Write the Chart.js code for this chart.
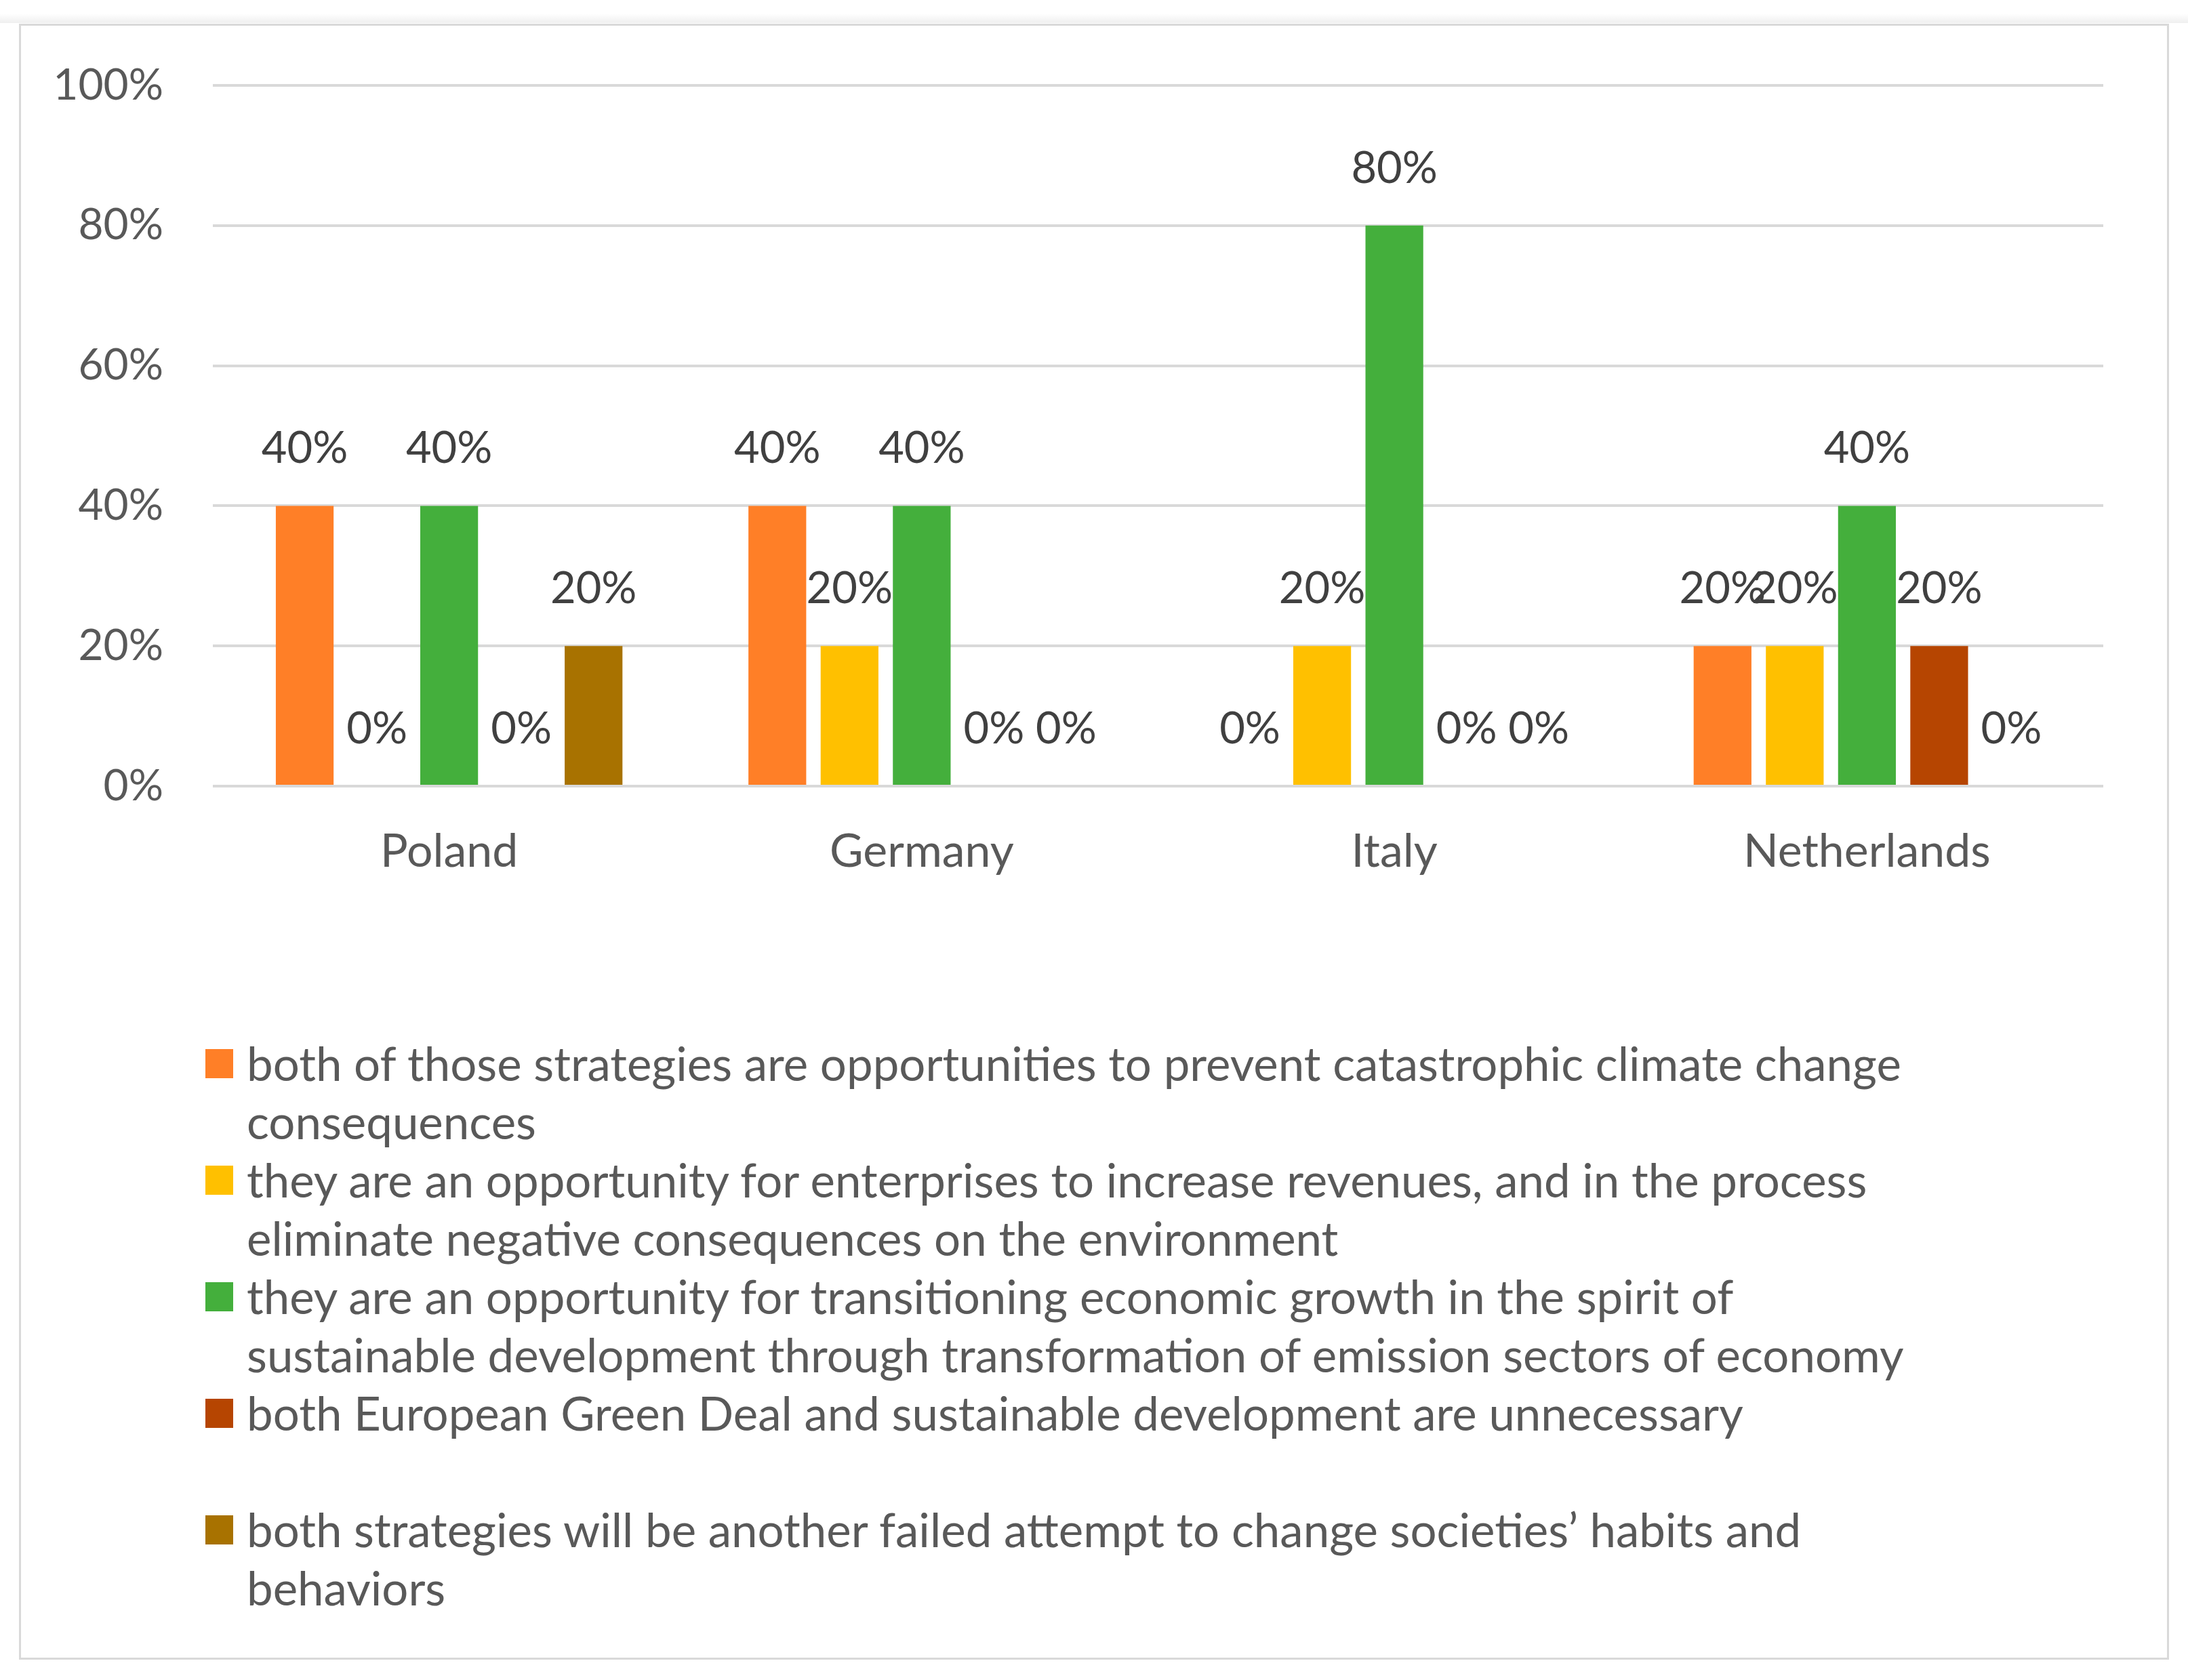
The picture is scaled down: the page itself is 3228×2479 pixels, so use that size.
<!DOCTYPE html>
<html>
<head>
<meta charset="utf-8">
<script src="https://cdn.jsdelivr.net/npm/chart.js@4"></script>
<style>
  html, body { margin: 0; padding: 0; background: #fff; }
  body { width: 3228px; height: 2479px; position: relative; overflow: hidden; font-family: Lato, 'Open Sans', sans-serif; }
  .topstrip { position: absolute; left: 0; top: 20px; width: 3228px; height: 14px; background: linear-gradient(#fff, #efefef); }
  .frame { position: absolute; left: 28px; top: 35px; width: 3166px; height: 2408px; border: 3px solid #d9d9d9; }
  #wrap { position: absolute; left: 0; top: 0; width: 3228px; height: 1350px; }
  #legend { position: absolute; left: 303px; top: 1526px; width: 2880px; }
  .item { display: flex; align-items: flex-start; height: 172px; }
  .box { width: 41px; height: 43px; margin-top: 22px; margin-right: 20px; flex: none; }
  .txt { font-size: 69px; line-height: 86px; color: #595959; white-space: nowrap; }
</style>
</head>
<body>
<div class="topstrip"></div>
<div class="frame"></div>
<div id="wrap"><canvas id="chart"></canvas></div>
<div id="legend"></div>
<script>
const countries = ['Poland', 'Germany', 'Italy', 'Netherlands'];
const yTicks = [0, 20, 40, 60, 80, 100];

const seriesLabels = [
  ['both of those strategies are opportunities to prevent catastrophic climate change', 'consequences'],
  ['they are an opportunity for enterprises to increase revenues, and in the process', 'eliminate negative consequences on the environment'],
  ['they are an opportunity for transitioning economic growth in the spirit of', 'sustainable development through transformation of  emission sectors of economy'],
  ['both European Green Deal and sustainable development are unnecessary'],
  ['both strategies will be another failed attempt to change societies’ habits and', 'behaviors']
];
const seriesColors = ['#ff7f27', '#ffc000', '#44af3c', '#b64501', '#a87200'];

const opportunitiesClimate = [40, 40, 0, 20];
const opportunityRevenues  = [0, 20, 20, 20];
const opportunityGrowth    = [40, 40, 80, 40];
const unnecessary          = [0, 0, 0, 20];
const failedAttempt        = [20, 0, 0, 0];
const seriesValues = [opportunitiesClimate, opportunityRevenues, opportunityGrowth, unnecessary, failedAttempt];

const FONT = 'Lato';
const tickC = '#595959', labelC = '#404040', gridC = '#d9d9d9';

const valueLabels = {
  id: 'valueLabels',
  afterDatasetsDraw(chart) {
    const ctx = chart.ctx;
    ctx.save();
    ctx.font = `65px ${FONT}`;
    ctx.fillStyle = labelC;
    ctx.textAlign = 'center';
    ctx.textBaseline = 'middle';
    chart.data.datasets.forEach((ds, i) => {
      chart.getDatasetMeta(i).data.forEach((bar, j) => {
        ctx.fillText(ds.data[j] + '%', bar.x, bar.y - 84);
      });
    });
    ctx.restore();
  }
};

Chart.defaults.font.family = FONT;
const canvas = document.getElementById('chart');
new Chart(canvas, {
  type: 'bar',
  data: {
    labels: countries,
    datasets: seriesValues.map((vals, i) => ({
      label: seriesLabels[i].join(' '),
      data: vals,
      backgroundColor: seriesColors[i],
      borderWidth: 0,
      barPercentage: 0.8,
      categoryPercentage: 0.764
    }))
  },
  options: {
    responsive: true,
    maintainAspectRatio: false,
    devicePixelRatio: 1,
    animation: false,
    events: [],
    layout: { padding: { left: 0, top: 126, right: 125, bottom: 0 } },
    plugins: { legend: { display: false }, tooltip: { enabled: false } },
    scales: {
      x: {
        grid: { display: false },
        border: { display: false },
        ticks: { color: tickC, font: { size: 68 }, padding: 48 },
        afterFit(s) { s.height = 190; }
      },
      y: {
        min: 0, max: 100,
        afterBuildTicks(s) { s.ticks = yTicks.map(v => ({ value: v })); },
        grid: { color: gridC, lineWidth: 4, drawTicks: false },
        border: { display: false },
        ticks: { color: tickC, font: { size: 64 }, padding: 73, callback: v => v + '%' },
        afterFit(s) { s.width = 314; }
      }
    }
  },
  plugins: [valueLabels]
});

document.getElementById('legend').innerHTML = seriesLabels.map((lines, i) => `
  <div class="item">
    <div class="box" style="background:${seriesColors[i]}"></div>
    <div class="txt">${lines.join('<br>')}</div>
  </div>`).join('');
</script>
</body>
</html>
